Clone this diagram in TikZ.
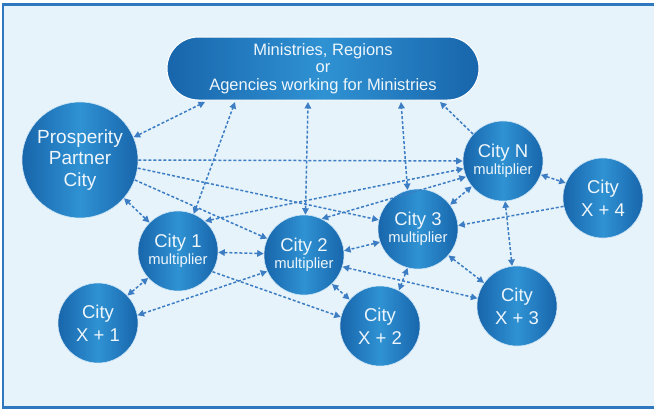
\documentclass[tikz,border=0pt]{standalone}
\usepackage{fontspec}
\setmainfont{Liberation Sans}
\usetikzlibrary{arrows.meta}
\definecolor{bgblue}{HTML}{E7F3FB}
\definecolor{framebl}{HTML}{2F78BF}
\definecolor{nodedark}{HTML}{1865AB}
\definecolor{nodelight}{HTML}{2F92D3}
\definecolor{linkbl}{HTML}{3C7DC3}
\definecolor{labelwhite}{HTML}{EEF6FC}
\begin{document}
\begin{tikzpicture}[x=1pt,y=-1pt,
  >={Triangle[length=6.5pt,width=6.5pt]},
  blob/.style={inner sep=0pt, align=center, text=labelwhite,
    left color=nodedark, right color=nodedark, middle color=nodelight,
    draw=white!75!nodelight, line width=0.6pt},
  city/.style={blob, circle, minimum size=80pt},
  multcity/.style={city, font=\fontsize{18.5}{17}\selectfont},
  xcity/.style={city, font=\fontsize{18.5}{23}\selectfont},
  bigcity/.style={blob, circle, minimum size=116pt, font=\fontsize{19}{21.7}\selectfont},
  govbox/.style={blob, rectangle, rounded corners=31.5pt, minimum width=312pt,
    minimum height=63pt, draw=white, line width=1pt, font=\fontsize{16.5}{17.5}\selectfont},
  link/.style={draw=linkbl, line width=1.5pt, dash pattern=on 3pt off 2pt}
]
\useasboundingbox (0,0) rectangle (654,410);
% panel and frame
\fill[white] (0,0) rectangle (654,410);
\fill[bgblue] (3,4.5) rectangle (654,407.5);
\draw[framebl, line width=2.5pt] (654,4.5) -- (3,4.5) -- (3,407.5) -- (654,407.5);

% nodes
\node[govbox] (box) at (323,68.5) {Ministries, Regions\\or\\Agencies working for Ministries};
\node[bigcity] (ppc) at (80,160) {Prosperity\\Partner\\City};
\node[multcity] (c1) at (178,251) {City 1\\{\fontsize{14.8}{17}\selectfont multiplier}};
\node[multcity] (c2) at (304,255) {City 2\\{\fontsize{14.8}{17}\selectfont multiplier}};
\node[multcity] (c3) at (418,229) {City 3\\{\fontsize{14.8}{17}\selectfont multiplier}};
\node[multcity] (cn) at (503,161) {City N\\{\fontsize{14.8}{17}\selectfont multiplier}};
\node[xcity] (cx1) at (98,323) {City\\X + 1};
\node[xcity] (cx2) at (380,326) {City\\X + 2};
\node[xcity] (cx3) at (517,306) {City\\X + 3};
\node[xcity] (cx4) at (603,198) {City\\X + 4};

% links to the ministries box
\draw[link,<->] (ppc.23) -- ([xshift=-118pt,yshift=-1.5pt]box.south);
\draw[link,<->] (c1.67) -- ([xshift=-88pt,yshift=-1.5pt]box.south);
\draw[link,<->] (c2.88) -- ([xshift=-15pt,yshift=-1.5pt]box.south);
\draw[link,<->] (c3.105) -- ([xshift=78pt,yshift=-1.5pt]box.south);
\draw[link,->] (cn.138) -- ([xshift=117pt,yshift=-1.5pt]box.south);

% links from the partner city
\draw[link,->] (ppc.east) -- (cn.west);
\draw[link,->] (ppc.-8) -- (c3.167);
\draw[link,->] (ppc.-20) -- (c2.156);
\draw[link,<->] (ppc.-41) -- (c1.135);

% links between the cities
\draw[link,<->] (c1.48) -- (cn.191);
\draw[link,<->] (c1.-2) -- (c2.178);
\draw[link,->] (c1.-31) -- (cx2.167);
\draw[link,<->] (cx1.43) -- (c1.222);
\draw[link,<->] (cx1.11) -- (c2.204);
\draw[link,<->] (c2.64) -- (cn.203);
\draw[link,<->] (c3.199) -- (c2.6);
\draw[link,<->] (c2.-17) -- (cx3.169);
\draw[link,<->] (c2.-46) -- (cx2.139);
\draw[link,<->] (c3.37) -- (cn.219);
\draw[link,->] (cx4.192) -- (c3.5);
\draw[link,<->] (c3.-41) -- (cx3.145);
\draw[link,<->] (c3.255) -- (cx2.62);
\draw[link,<->] (cn.-20) -- (cx4.158);
\draw[link,<->] (cn.-87) -- (cx3.97);
\end{tikzpicture}
\end{document}
